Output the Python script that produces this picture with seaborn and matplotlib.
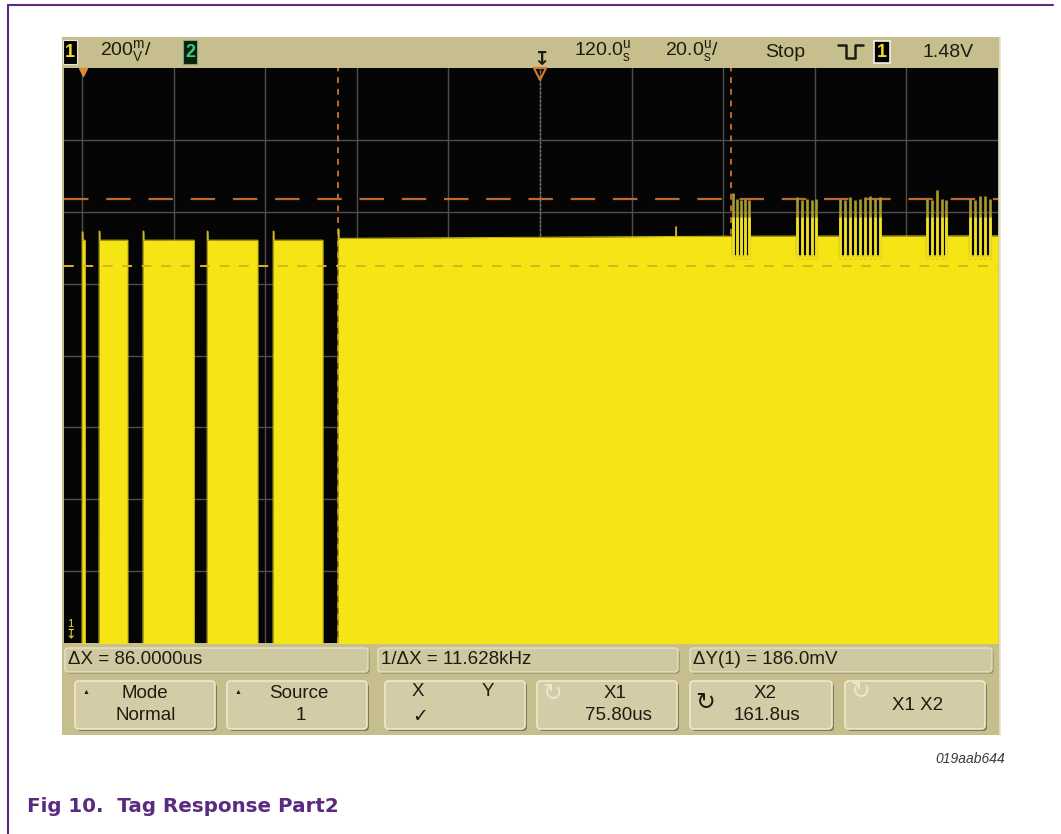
import numpy as np
import matplotlib
matplotlib.use("Agg")
import matplotlib.pyplot as plt
from matplotlib.patches import Rectangle, FancyBboxPatch
import seaborn as sns

# scope trace: time in us (20 us/div, delay 120 us), volts (200 mV/div)
seg_start = [20.0, 23.7, 33.3, 47.3, 61.7, 75.9]
seg_end = [20.7, 30.0, 44.5, 58.4, 72.6, 220.0]
level_t = [16.0, 75.0, 76.5, 120.0, 160.0, 220.0]
level_v = [1.921, 1.921, 1.926, 1.929, 1.932, 1.933]
spike_t = [20.1, 23.8, 33.4, 47.4, 61.8, 76.0, 149.7]
spike_v = [1.944, 1.946, 1.946, 1.946, 1.946, 1.952, 1.958]

# tag response bursts
burst_start = [161.9, 175.9, 185.3, 204.3, 213.7]
burst_end = [165.8, 180.5, 194.4, 208.8, 218.5]
burst_floor = 1.878
burst_t = [162.1, 163.0, 163.9, 164.8, 165.6,
           176.1, 177.2, 178.3, 179.4, 180.3,
           185.5, 186.6, 187.7, 188.8, 189.9, 191.0, 192.1, 193.1, 194.2,
           204.5, 205.6, 206.7, 207.8, 208.6,
           213.9, 215.0, 216.1, 217.2, 218.3]
burst_top = [2.052, 2.036, 2.034, 2.036, 2.034,
             2.042, 2.034, 2.036, 2.034, 2.036,
             2.036, 2.034, 2.040, 2.034, 2.036, 2.040, 2.044, 2.036, 2.040,
             2.036, 2.034, 2.060, 2.036, 2.034,
             2.036, 2.034, 2.044, 2.044, 2.036]

x_cursors = [75.80, 161.8]
y_cursors = [2.036, 1.850]
trig_t = 120.0
t_div, v_div = 20.0, 0.2
t_lim = (16.07, 220.0)
v_lim = (0.8, 2.4)

# scope readouts
top_labels = ["200$^{\\mathrm{m}}_{\\mathrm{V}}$/", "120.0$^{\\mathrm{u}}_{\\mathrm{s}}$",
              "20.0$^{\\mathrm{u}}_{\\mathrm{s}}$/", "Stop", "1.48V"]
meas_labels = ["\u0394X = 86.0000us", "1/\u0394X = 11.628kHz", "\u0394Y(1) = 186.0mV"]
caption = "Fig 10.  Tag Response Part2"

sns.set_theme(style="dark")
plt.rcParams["font.family"] = ["Liberation Sans", "DejaVu Sans"]
plt.rcParams["mathtext.fontset"] = "custom"
plt.rcParams["mathtext.rm"] = "Liberation Sans"

W, H = 1061, 834
purple = "#5a2a82"
tan = "#c6be8d"
yellow = "#f6e515"
orange = "#bd6a30"
ink = "#1e1c12"


def px_box(x0, y0, x1, y1):
    return [x0 / W, 1 - y1 / H, (x1 - x0) / W, (y1 - y0) / H]


fig = plt.figure(figsize=(W / 100, H / 100), dpi=100)
fig.patch.set_facecolor("white")
bg = fig.add_axes([0, 0, 1, 1])
bg.set_xlim(0, W)
bg.set_ylim(H, 0)
bg.axis("off")

# page frame
bg.plot([8, 8], [5, H], color=purple, lw=1.5)
bg.plot([8, 1053], [5, 5], color=purple, lw=1.5)

# scope body
bg.add_patch(Rectangle((62, 37), 938, 698, fc=tan, ec="none"))
bg.plot([1000, 1000], [37, 735], color="#e6e2d0", lw=1.2)

# ---- top status bar
bg.add_patch(Rectangle((63, 40), 14, 24, fc="black", ec="#e8e4d0", lw=0.8))
bg.text(70, 52, "1", ha="center", va="center", fontsize=13, color="#f0e020", fontweight="bold")
bg.text(100, 52, top_labels[0], ha="left", va="center", fontsize=14, color=ink)
bg.add_patch(Rectangle((183, 40), 14, 24, fc="#082010", ec="#8aa080", lw=0.8))
bg.text(190, 52, "2", ha="center", va="center", fontsize=13, color="#3ad070", fontweight="bold")
bg.text(541, 60, "\u21a7", ha="center", va="center", fontsize=14, color=ink, fontweight="bold")
bg.text(574, 52, top_labels[1], ha="left", va="center", fontsize=14, color=ink)
bg.text(665, 52, top_labels[2], ha="left", va="center", fontsize=14, color=ink)
bg.text(765, 52, top_labels[3], ha="left", va="center", fontsize=14, color=ink)
bg.plot([838, 846, 846, 855, 855, 863], [45, 45, 58, 58, 45, 45], color=ink, lw=1.8)
bg.add_patch(Rectangle((874, 41), 16, 22, fc="black", ec="#f4f0e0", lw=1.2))
bg.text(882, 52, "1", ha="center", va="center", fontsize=13, color="#f0e020", fontweight="bold")
bg.text(923, 52, top_labels[4], ha="left", va="center", fontsize=14, color=ink)

# ---- waveform area
ax = fig.add_axes(px_box(64, 68, 998, 643))
ax.set_zorder(2)
ax.set_facecolor("#050505")
ax.set_xlim(*t_lim)
ax.set_ylim(*v_lim)
ax.set_xticks([])
ax.set_yticks([])
for s in ax.spines.values():
    s.set_visible(False)

for gt in np.arange(t_div, t_lim[1], t_div):
    ax.axvline(gt, color="#4e4e4e", lw=1, zorder=1)
for gv in np.arange(v_lim[0] + v_div, v_lim[1] - 1e-6, v_div):
    ax.axhline(gv, color="#4e4e4e", lw=1, zorder=1)

t = np.arange(t_lim[0], t_lim[1] + 1e-9, 0.02)
v = np.interp(t, level_t, level_v)
on = np.zeros(t.size, dtype=bool)
for s, e in zip(seg_start, seg_end):
    on |= (t >= s) & (t <= e)
for s, e in zip(burst_start, burst_end):
    v[(t >= s) & (t <= e)] = burst_floor
for st, sv in zip(spike_t, spike_v):
    v[np.abs(t - st) < 0.1] = sv
v[~on] = 0.0

# cursors behind the trace
ax.axhline(y_cursors[0], color=orange, lw=1.6, dashes=(11, 8), zorder=2)
for xc in x_cursors:
    ax.axvline(xc, color=orange, lw=1.4, dashes=(3, 3), zorder=2)
ax.axvline(trig_t, color="#8c8c8c", lw=1, ls=(0, (1, 2)), zorder=2)

ax.fill_between(t, 0, v, color=yellow, lw=0, zorder=3)
sns.lineplot(x=t, y=v, ax=ax, color="#c9b81c", lw=0.7, zorder=4,
             estimator=None, sort=False, legend=False)
ax.vlines(burst_t, burst_floor - 0.01, burst_top, color="#a99b2a", lw=1.9, zorder=5)
ax.vlines(burst_t, burst_floor - 0.01, 1.985, color="#f2e21c", lw=1.9, zorder=5)

ax.axhline(y_cursors[1], color="#e0b020", lw=1.4, dashes=(5, 5), zorder=6)

ax.plot([trig_t], [2.383], marker="v", ms=9, mfc="none", mec="#d47a2c", mew=1.5,
        clip_on=False, zorder=7)
ax.plot([20.3], [2.39], marker="v", ms=6, color="#e08a30", clip_on=False, zorder=7)

# ground marker, drawn on the screen axes in page pixels
ax.text(70, 624, "1", transform=bg.transData, ha="center", va="center",
        fontsize=8, color="#e8dc30", zorder=8, clip_on=False)
ax.text(71, 635, "\u21a7", transform=bg.transData, ha="center", va="center",
        fontsize=9, color="#e8dc30", zorder=8, clip_on=False)

# ---- softkey panel
for (x0, x1), lab in zip([(65, 368), (378, 678), (690, 992)], meas_labels):
    bg.add_patch(FancyBboxPatch((x0 + 1.5, 649.5), x1 - x0, 24,
                                boxstyle="round,pad=0,rounding_size=3",
                                fc="#8a8462", ec="none"))
    bg.add_patch(FancyBboxPatch((x0, 648), x1 - x0, 24,
                                boxstyle="round,pad=0,rounding_size=3",
                                fc="#cfc8a0", ec="#e8e2c6", lw=1))
    bg.text(x0 + 3, 660, lab, ha="left", va="center", fontsize=13.5, color=ink)

buttons = [(75, 215), (227, 367), (385, 525), (537, 677), (690, 832), (845, 985)]
for x0, x1 in buttons:
    bg.add_patch(FancyBboxPatch((x0 + 2, 683), x1 - x0, 48,
                                boxstyle="round,pad=0,rounding_size=4",
                                fc="#7e7958", ec="none"))
    bg.add_patch(FancyBboxPatch((x0, 681), x1 - x0, 48,
                                boxstyle="round,pad=0,rounding_size=4",
                                fc="#d3cca6", ec="#efe9ce", lw=1.2))

bfs = 13.5
bg.text(86, 693, "\u25b2", ha="center", va="center", fontsize=5, color=ink)
bg.text(145, 694, "Mode", ha="center", va="center", fontsize=bfs, color=ink)
bg.text(146, 716, "Normal", ha="center", va="center", fontsize=bfs, color=ink)
bg.text(238, 693, "\u25b2", ha="center", va="center", fontsize=5, color=ink)
bg.text(299, 694, "Source", ha="center", va="center", fontsize=bfs, color=ink)
bg.text(301, 716, "1", ha="center", va="center", fontsize=bfs, color=ink)
bg.text(418, 692, "X", ha="center", va="center", fontsize=bfs, color=ink)
bg.text(488, 691, "Y", ha="center", va="center", fontsize=bfs, color=ink)
bg.text(420, 717, "\u2713", ha="center", va="center", fontsize=bfs, color=ink)
bg.text(552, 694, "\u21bb", ha="center", va="center", fontsize=17, color="#ece6d2")
bg.text(615, 693, "X1", ha="center", va="center", fontsize=bfs, color=ink)
bg.text(618, 716, "75.80us", ha="center", va="center", fontsize=bfs, color=ink)
bg.text(705, 703, "\u21bb", ha="center", va="center", fontsize=17, color=ink)
bg.text(765, 693, "X2", ha="center", va="center", fontsize=bfs, color=ink)
bg.text(767, 716, "161.8us", ha="center", va="center", fontsize=bfs, color=ink)
bg.text(860, 692, "\u21bb", ha="center", va="center", fontsize=17, color="#ece6d2")
bg.text(918, 705, "X1 X2", ha="center", va="center", fontsize=bfs, color=ink)

bg.text(1005, 759, "019aab644", ha="right", va="center", fontsize=10,
        style="italic", color="#3a3a3a")
bg.text(27, 806, caption, ha="left", va="center", fontsize=14.3,
        fontweight="bold", color=purple, family=["DejaVu Sans"])

fig.savefig("out.png", dpi=100, facecolor="white")
